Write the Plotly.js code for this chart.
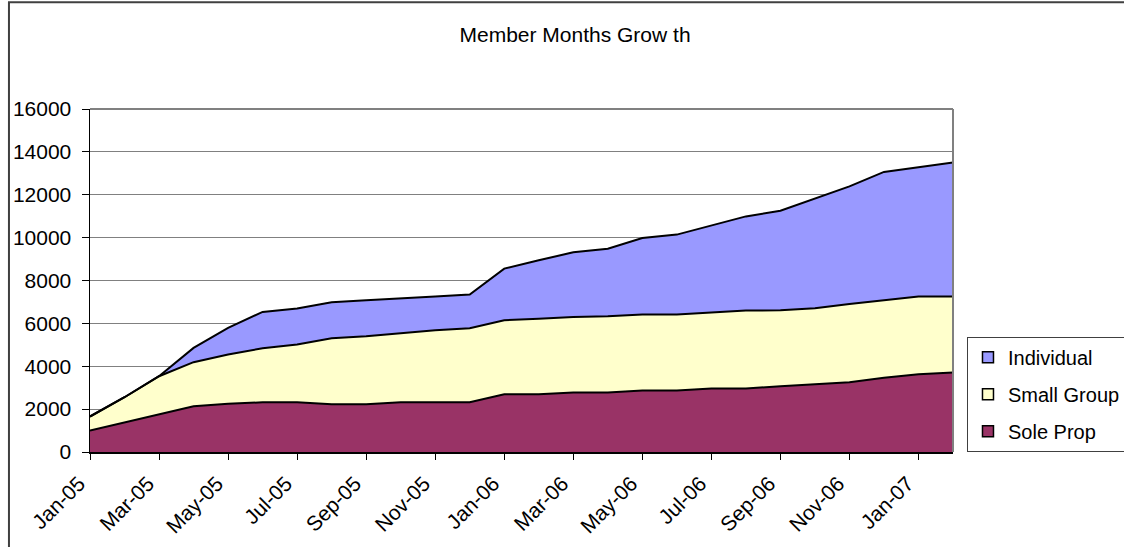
<!DOCTYPE html>
<html>
<head>
<meta charset="utf-8">
<script src="https://cdn.plot.ly/plotly-3.0.1.min.js"></script>
<style>
  html, body { margin: 0; padding: 0; background: #fff; }
  #chart { width: 1124px; height: 547px; }
</style>
</head>
<body>
<div id="chart"></div>
<script>
// ---- data ----
const months = ["Jan-05","Feb-05","Mar-05","Apr-05","May-05","Jun-05","Jul-05","Aug-05","Sep-05","Oct-05","Nov-05","Dec-05",
                "Jan-06","Feb-06","Mar-06","Apr-06","May-06","Jun-06","Jul-06","Aug-06","Sep-06","Oct-06","Nov-06","Dec-06",
                "Jan-07","Feb-07"];
const tickLabels = ["Jan-05","Mar-05","May-05","Jul-05","Sep-05","Nov-05","Jan-06","Mar-06","May-06","Jul-06","Sep-06","Nov-06","Jan-07"];
const soleProp   = [1000,1390,1780,2135,2245,2320,2320,2230,2230,2320,2320,2320,2690,2690,2775,2775,2865,2865,2960,2960,3065,3150,3255,3460,3630,3710];
const smallGroup = [655,1165,1755,2055,2300,2520,2690,3075,3170,3235,3360,3455,3455,3520,3525,3555,3545,3545,3560,3635,3545,3555,3650,3620,3620,3540];
const individual = [0,0,0,665,1245,1695,1680,1680,1680,1600,1570,1570,2410,2735,3015,3155,3575,3730,4040,4395,4645,5115,5485,5985,6045,6250];
const seriesNames = ["Sole Prop","Small Group","Individual"];
const seriesColors = ["#993366","#FFFFCC","#9999FF"];

const FONT = "Liberation Sans, Arial, sans-serif";
const seriesVals = [soleProp, smallGroup, individual];

const traces = [];
seriesVals.forEach((vals, i) => {
  traces.push({
    type: "scatter", mode: "lines", x: months, y: vals,
    stackgroup: "one", name: seriesNames[i],
    line: { color: "#000", width: 2 },
    fillcolor: seriesColors[i],
    showlegend: false, hoverinfo: "x+y+name"
  });
});
// legend entries (square swatches), top-down: Individual, Small Group, Sole Prop
[2,1,0].forEach((i) => {
  traces.push({
    type: "scatter", mode: "markers", x: [null], y: [null],
    name: seriesNames[i], legendgroup: "g" + i,
    marker: { symbol: "square", size: 11, color: seriesColors[i], line: { color: "#000", width: 1.5 } },
    showlegend: true
  });
});

const layout = {
  width: 1124, height: 547,
  margin: { l: 90, r: 171, t: 109, b: 95, autoexpand: false },
  paper_bgcolor: "#fff", plot_bgcolor: "#fff",
  font: { family: FONT, size: 21, color: "#000" },
  title: { text: "Member Months Grow th", font: { family: FONT, size: 21, color: "#000" },
           x: 0.5116, xref: "container", xanchor: "center", y: 0.936, yref: "container", yanchor: "middle" },
  xaxis: {
    type: "category", range: [0, 25], autorange: false,
    tickmode: "array", tickvals: tickLabels, ticktext: tickLabels,
    tickangle: -45, ticks: "outside", ticklen: 6, tickwidth: 1, tickcolor: "#000",
    ticklabelstandoff: 3, ticklabelshift: -11,
    showline: true, linecolor: "#000", linewidth: 2,
    showgrid: false, zeroline: false, automargin: false,
    tickfont: { family: FONT, size: 21, color: "#000" }
  },
  yaxis: {
    range: [0, 16000], autorange: false, dtick: 2000, tick0: 0, tickformat: "d",
    ticks: "outside", ticklen: 7, tickwidth: 1, tickcolor: "#000",
    showline: true, linecolor: "#000", linewidth: 1.5,
    showgrid: true, gridcolor: "#808080", gridwidth: 1,
    zeroline: false, ticklabelstandoff: 6, automargin: false,
    tickfont: { family: FONT, size: 21, color: "#000" }
  },
  legend: {
    x: 1.0162, xanchor: "left", y: 0.336, yanchor: "top",
    bgcolor: "#fff", bordercolor: "#404040", borderwidth: 1,
    traceorder: "grouped", tracegroupgap: 8,
    font: { family: FONT, size: 20, color: "#000" }
  },
  showlegend: true,
  shapes: [
    // plot area border (top & right)
    { type: "line", xref: "paper", yref: "paper", x0: 0, x1: 1, y0: 1, y1: 1, line: { color: "#808080", width: 2 } },
    { type: "line", xref: "paper", yref: "paper", x0: 1, x1: 1, y0: 0, y1: 1, line: { color: "#808080", width: 2 } },
    // outer chart border
    { type: "rect", xref: "paper", yref: "paper", x0: -0.0939, x1: 1.21, y0: -0.29, y1: 1.311,
      line: { color: "#404040", width: 2 }, fillcolor: "rgba(0,0,0,0)" }
  ]
};

Plotly.newPlot("chart", traces, layout, { displayModeBar: false, staticPlot: true });
</script>
</body>
</html>
